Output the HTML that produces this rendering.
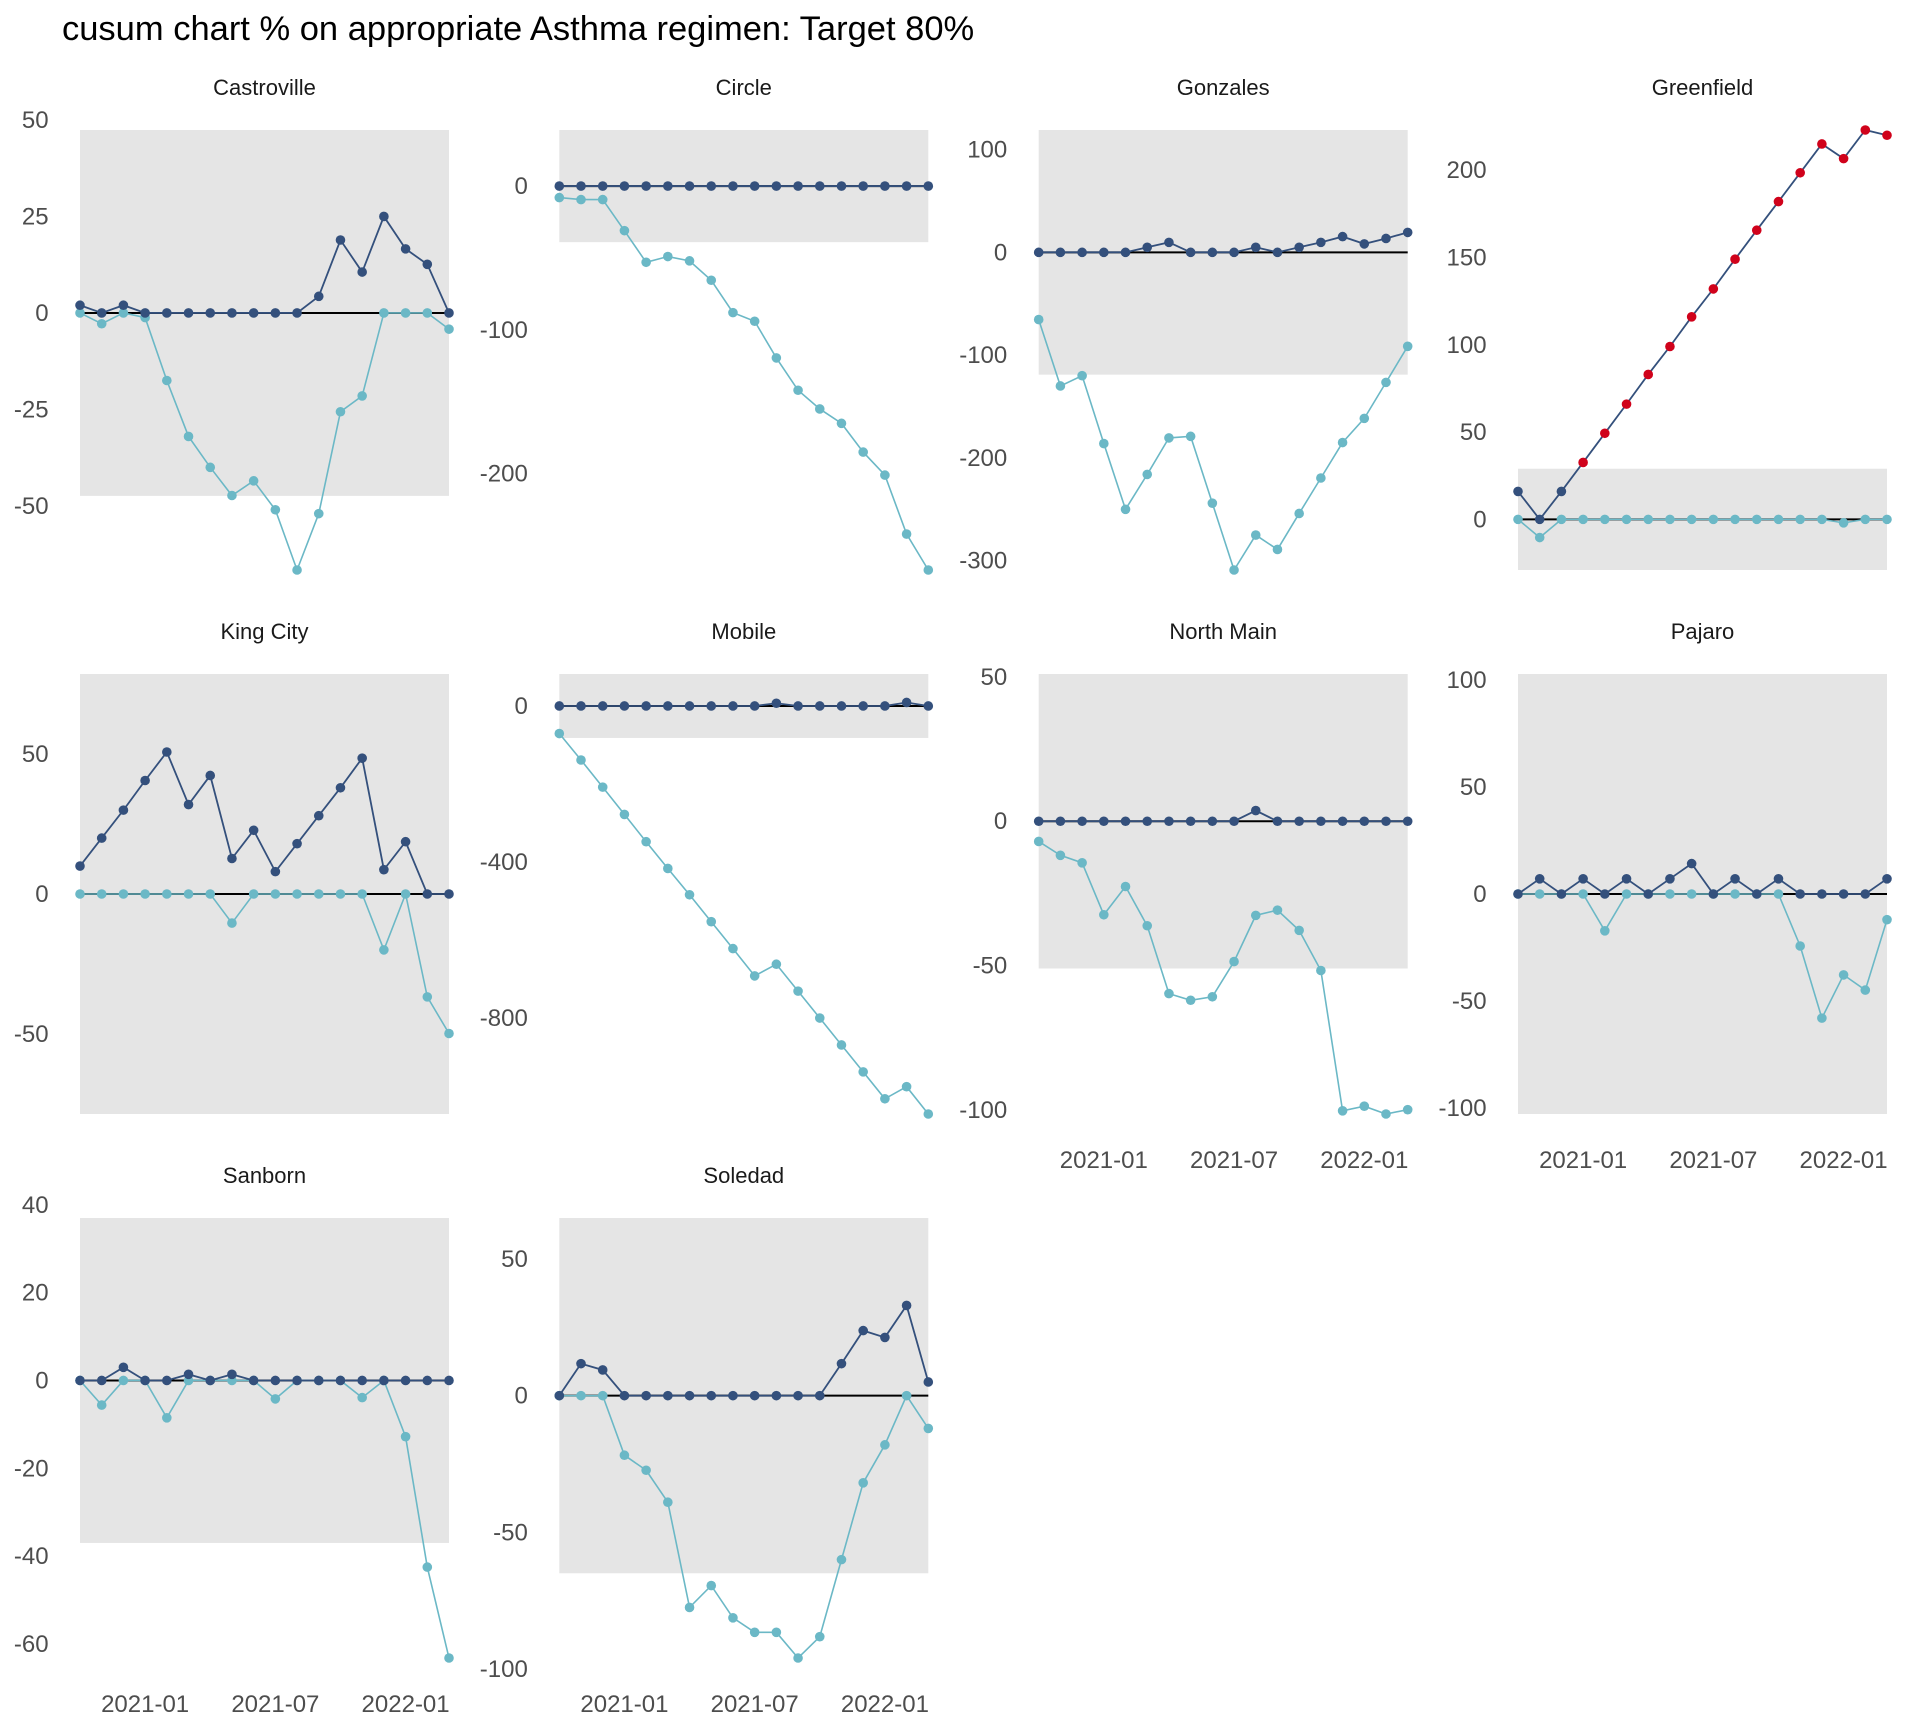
<!DOCTYPE html>
<html><head><meta charset="utf-8">
<style>
html,body{margin:0;padding:0;background:#fff;}
svg{display:block;font-family:"Liberation Sans",Arial,sans-serif;}
</style></head>
<body>
<svg id="chart" width="1920" height="1728" viewBox="0 0 1920 1728" xmlns="http://www.w3.org/2000/svg">
<text x="62" y="40" font-size="34.5" fill="#000">cusum chart % on appropriate Asthma regimen: Target 80%</text>
</svg>
<script>
const sites = ["Castroville","Circle","Gonzales","Greenfield","King City","Mobile","North Main","Pajaro","Sanborn","Soledad"];
const limits = [47.4,39,119,29,78.7,82,51,102.8,37,65];
const upperCastroville = [2,0,2,0,0,0,0,0,0,0,0,4.3,18.9,10.6,25,16.6,12.6,0];
const lowerCastroville = [0,-2.8,0,-1.2,-17.5,-32,-40,-47.3,-43.5,-51,-66.6,-52,-25.6,-21.5,0,0,0,-4.2];
const upperCircle = [0,0,0,0,0,0,0,0,0,0,0,0,0,0,0,0,0,0];
const lowerCircle = [-8,-9.4,-9.4,-31,-53,-49,-52,-65.5,-88,-94,-119.5,-142,-155,-165,-185,-201,-242,-267];
const upperGonzales = [0,0,0,0,0,4.9,9.7,0,0,0,4.9,0,4.9,9.7,15.3,8.2,13.5,19.4];
const lowerGonzales = [-65.4,-130,-120,-186,-250,-216,-180.5,-179,-244,-309,-275,-289,-254,-219.5,-185,-161.5,-126.5,-91.4];
const upperGreenfield = [16,0,16,32.6,49.3,66,83,99,116,132,149,165.6,182,198.5,215,206.6,223,220];
const lowerGreenfield = [0,-10.4,0,0,0,0,0,0,0,0,0,0,0,0,0,-2,0,0];
const upperKingCity = [10,20,30,40.6,50.8,32,42.4,12.7,22.8,8,18,28,38,48.6,8.7,18.7,0,0];
const lowerKingCity = [0,0,0,0,0,0,0,-10.4,0,0,0,0,0,0,-20,0,-36.8,-49.9];
const upperMobile = [0,0,0,0,0,0,0,0,0,0,7,0,0,0,0,0,9,0];
const lowerMobile = [-70.6,-138.5,-208,-278,-348,-416.5,-484,-553,-622,-692,-662,-731,-800,-869,-938,-1007,-976,-1046];
const upperNorthMain = [0,0,0,0,0,0,0,0,0,0,3.7,0,0,0,0,0,0,0];
const lowerNorthMain = [-7,-11.8,-14.4,-32.4,-22.6,-36.2,-59.7,-62,-60.8,-48.6,-32.6,-30.8,-37.8,-51.7,-100.3,-98.7,-101.4,-99.9];
const upperPajaro = [0,7.1,0,7.1,0,7.1,0,7.1,14.2,0,7.1,0,7.1,0,0,0,0,7.1];
const lowerPajaro = [0,0,0,0,-17.2,0,0,0,0,0,0,0,0,-24.3,-58,-37.8,-44.9,-12];
const upperSanborn = [0,0,3,0,0,1.4,0,1.4,0,0,0,0,0,0,0,0,0,0];
const lowerSanborn = [0,-5.6,0,0,-8.5,0,0,0,0,-4.2,0,0,0,-3.9,0,-12.8,-42.5,-63.2];
const upperSoledad = [0,11.7,9.4,0,0,0,0,0,0,0,0,0,0,11.7,23.8,21.3,33,5];
const lowerSoledad = [0,0,0,-21.8,-27.3,-39,-77.5,-69.5,-81.3,-86.6,-86.6,-96,-88.2,-60,-31.9,-18,0,-12];
const upperSeries = [upperCastroville,upperCircle,upperGonzales,upperGreenfield,upperKingCity,upperMobile,upperNorthMain,upperPajaro,upperSanborn,upperSoledad];
const lowerSeries = [lowerCastroville,lowerCircle,lowerGonzales,lowerGreenfield,lowerKingCity,lowerMobile,lowerNorthMain,lowerPajaro,lowerSanborn,lowerSoledad];
const yTicks = [[50,25,0,-25,-50],[0,-100,-200],[100,0,-100,-200,-300],[200,150,100,50,0],[50,0,-50],[0,-400,-800],[50,0,-50,-100],[100,50,0,-50,-100],[40,20,0,-20,-40,-60],[50,0,-50,-100]];
const xTickIdx = [3,9,15];
const xTickLabels = ["2021-01","2021-07","2022-01"];

const NS="http://www.w3.org/2000/svg";
const svg=document.getElementById('chart');
const colX0=[80,559.3,1038.7,1518], W=369, rowTop=[108,652,1196], H=484;
function mk(tag,attrs,parent){const e=document.createElementNS(NS,tag);for(const k in attrs)e.setAttribute(k,attrs[k]);(parent||svg).appendChild(e);return e;}
sites.forEach((site,i)=>{
  const col=i%4,row=Math.floor(i/4);
  const up=upperSeries[i],lo=lowerSeries[i],h=limits[i],n=up.length;
  const g=mk('g',{});
  
  
  let mn=Math.min(-h,...lo,...up),mx=Math.max(h,...lo,...up);
  const pad=(mx-mn)*0.05; mn-=pad; mx+=pad;
  const T=rowTop[row];
  const y=v=>T+(mx-v)/(mx-mn)*H;
  const x=k=>colX0[col]+k*W/(n-1);
  const left=colX0[col]-W/(n-1)*0.85;
  const r=mk('rect',{x:x(0),y:y(h),width:x(n-1)-x(0),height:y(-h)-y(h),fill:'#e5e5e5'},g);
  
  
  const st=mk('text',{x:x(0)+W/2,y:T-13,'text-anchor':'middle','font-size':22,fill:'#1a1a1a'},g);
  st.textContent=site;
  
  
  yTicks[i].forEach(t=>{const tx=mk('text',{x:left-13,y:y(t)+8,'text-anchor':'end','font-size':24,fill:'#4d4d4d'},g);tx.textContent=t;
    
    });
  const showX=(row===2)||(row===1&&col>=2);
  if(showX) xTickIdx.forEach((k,j)=>{const tx=mk('text',{x:x(k),y:T+H+32,'text-anchor':'middle','font-size':24,fill:'#4d4d4d'},g);tx.textContent=xTickLabels[j];
    
    });
  const ln=mk('line',{x1:x(0),x2:x(n-1),y1:y(0),y2:y(0),stroke:'#000','stroke-width':2},g);
  
  
  [[lo,'#6bb8c6','lower'],[up,'#34507c','upper']].forEach(([s,c,nm])=>{
    const p=mk('polyline',{points:s.map((v,k)=>x(k)+','+y(v)).join(' '),fill:'none',stroke:c,'stroke-width':nm==='upper'?1.8:1.6},g);
    
    
    s.forEach((v,k)=>{const fillc=(nm==='upper'&&v>h)?'#d0021b':c;
      const ci=mk('circle',{cx:x(k),cy:y(v),r:4.8,fill:fillc},g);
      
      });
  });
});
</script>
</body></html>
